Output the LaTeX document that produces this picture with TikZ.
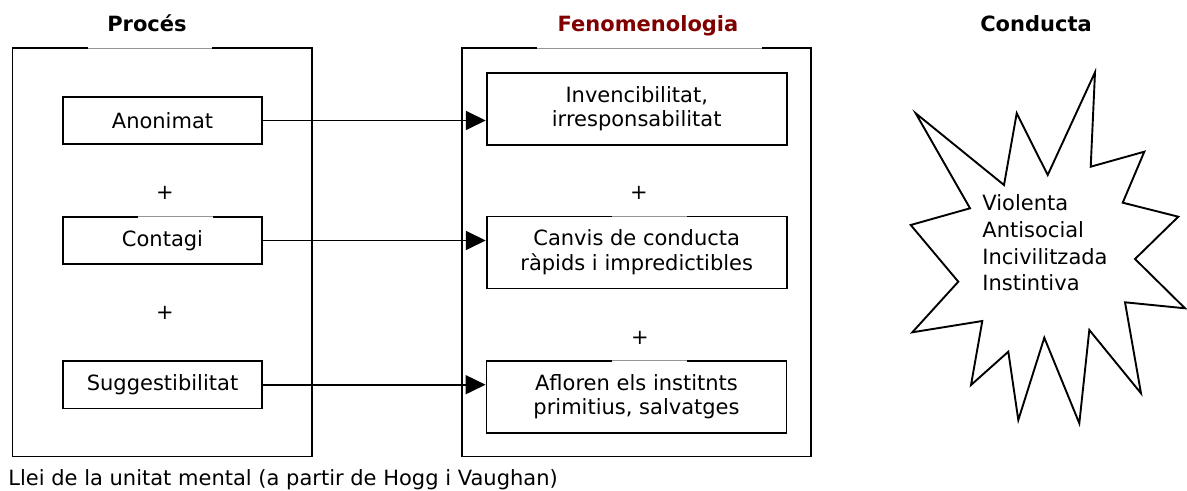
\documentclass[tikz,border=0pt]{standalone}
\usepackage{fontspec}
\setmainfont{DejaVu Sans}
\usepackage{xcolor}
\usepackage{tikz}
\usetikzlibrary{arrows.meta,positioning,calc}
\definecolor{titlered}{RGB}{128,  0,  0}
\definecolor{gapgray} {RGB}{150,150,150}
\newcommand{\diagfont}{\fontsize{10.5}{12.4}\selectfont}

\begin{document}
\begin{tikzpicture}[x=0.5pt,y=-0.5pt,
  every node/.style={font=\diagfont},
  frame/.style={draw, line width=0.95pt, inner sep=0pt},
  itembox/.style={draw, line width=0.95pt, fill=white, align=center, inner sep=0pt},
  coltitle/.style={font=\diagfont\bfseries, anchor=base, inner sep=0pt},
  plus/.style={inner sep=0pt},
  gapcut/.style={draw=gapgray, line width=0.35pt,
                 preaction={draw=white, line width=1.6pt}},
  flow/.style={-{Triangle[length=10pt,width=9.5pt]}, line width=0.9pt}]

\useasboundingbox (0,0) rectangle (1187,491);

% column titles
\node[coltitle] (proctitle) at (147,32) {Procés};
\node[coltitle, text=titlered] (fenotitle) at (648,32) {Fenomenologia};
\node[coltitle] (condtitle) at (1036,32) {Conducta};

% frames
\node[frame, minimum width=149.75pt, minimum height=204.25pt] (procframe) at (162.25,252.25) {};
\node[frame, minimum width=174.65pt, minimum height=204.25pt] (fenoframe) at (636.35,252.25) {};

% process column
\node[itembox, minimum width=99.8pt, minimum height=23.8pt] (anon) at (162.5,120.5) {Anonimat};
\node[plus] (plusa) at (165,193) {+};
\node[itembox, minimum width=99.8pt, minimum height=23.8pt] (contagi) at (162.5,240.5) {Contagi};
\node[plus] (plusb) at (165,313) {+};
\node[itembox, minimum width=99.8pt, minimum height=23.8pt] (sugg) at (162.5,384.7) {Suggestibilitat};

% phenomenology column
\node[itembox, minimum width=150pt, minimum height=36pt] (invenc) at (636.7,108.7)
  {Invencibilitat,\\irresponsabilitat};
\node[plus] (plusc) at (639,193) {+};
\node[itembox, minimum width=150pt, minimum height=36pt] (canvis) at (636.7,252.5)
  {Canvis de conducta\\ràpids i impredictibles};
\node[plus] (plusd) at (640,338) {+};
\node[itembox, minimum width=150pt, minimum height=36pt] (afloren) at (636.5,396.7)
  {Afloren els institnts\\primitius, salvatges};

% gaps in the top borders
\draw[gapcut] (88,48) -- (212,48);
\draw[gapcut] (537,48) -- (762,48);
\draw[gapcut] (138,216.7) -- (213,216.7);
\draw[gapcut] (612,216.7) -- (687,216.7);
\draw[gapcut] (612,360.7) -- (687,360.7);

% arrows
\draw[flow] (anon.east) -- (anon.east -| invenc.west);
\draw[flow] (contagi.east) -- (contagi.east -| canvis.west);
\draw[flow] (sugg.east) -- (sugg.east -| afloren.west);

% behaviour burst
\draw[line width=0.95pt, line join=miter]
  (915.7,113.3) -- (1004,185) -- (1016.7,113.3) -- (1047.7,175)
  -- (1095,72.3) -- (1090.7,166.7) -- (1144.3,151.7) -- (1122.7,202.7)
  -- (1178.3,216.7) -- (1135,259) -- (1185,308.3) -- (1125,302.3)
  -- (1141,393.3) -- (1089.3,330) -- (1079.3,423.3) -- (1044.3,337.7)
  -- (1018.3,420) -- (1008.3,351.7) -- (971,385) -- (982.3,321)
  -- (912.3,332.3) -- (958.3,281.7) -- (910.7,225) -- (970,208.3) -- cycle;
\node[align=left, anchor=west, inner sep=0pt, font=\fontsize{10.5}{13.3}\selectfont]
  (condtext) at (982,243) {Violenta\\Antisocial\\Incivilitzada\\Instintiva};

% caption
\node[anchor=west, inner sep=0pt] (caption) at (8,480)
  {Llei de la unitat mental (a partir de Hogg i Vaughan)};

\end{tikzpicture}
\end{document}
